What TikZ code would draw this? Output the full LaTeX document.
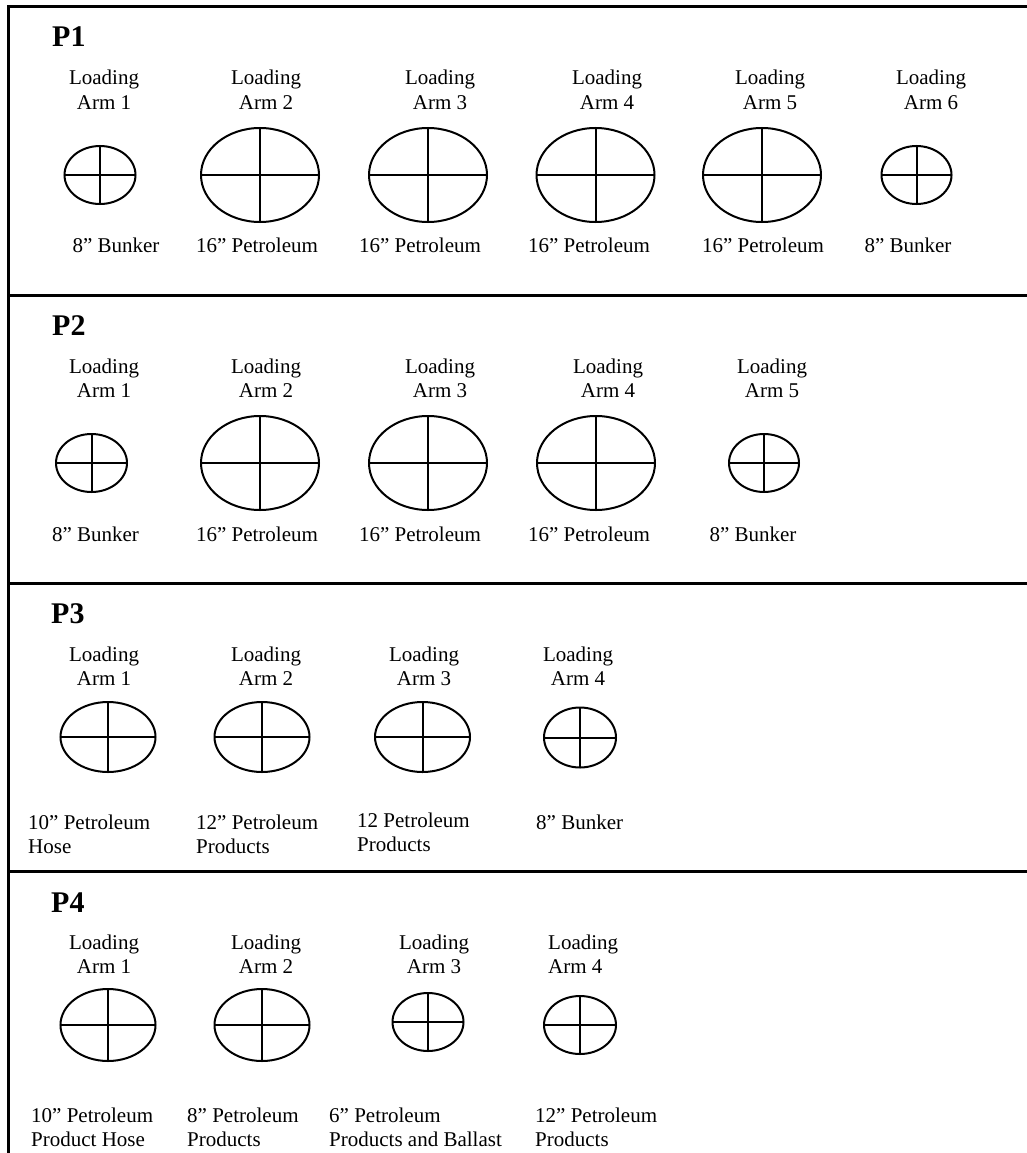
\documentclass[tikz,border=0pt]{standalone}
\usepackage{fontspec}
\setmainfont{Liberation Serif}
\usetikzlibrary{shapes.geometric}
\newcommand\armfont{\fontsize{21}{24.5}\selectfont}
\newcommand\panfont{\fontsize{30}{34}\selectfont\bfseries}
\newcommand\twoc[2]{\begin{tabular}[t]{@{}c@{}}#1\\#2\end{tabular}}
\newcommand\twol[2]{\begin{tabular}[t]{@{}l@{}}#1\\#2\end{tabular}}
\tikzset{
  frameline/.style={line width=3pt},
  armshape/.style={draw, ellipse, line width=2pt, inner sep=0pt, outer sep=0pt},
  crossline/.style={line width=2pt},
  toplbl/.style={font=\armfont, inner sep=0pt, anchor=base},
  botlbl/.style={font=\armfont, inner sep=0pt, anchor=base},
  botlbll/.style={font=\armfont, inner sep=0pt, anchor=base west},
  panlbl/.style={font=\panfont, inner sep=0pt, anchor=base west}
}
% name, x, y, width, height
\newcommand\armell[5]{%
  \node[armshape, minimum width=#4pt, minimum height=#5pt] (#1) at (#2,#3) {};
  \draw[crossline] (#1.north) -- (#1.south) (#1.west) -- (#1.east);}
\begin{document}
\begin{tikzpicture}[x=1pt,y=-1pt]
\useasboundingbox (0,0) rectangle (1027,1153);
% frame
\coordinate (tl) at (8,7);
\coordinate (tr) at (1027,7);
\coordinate (bl) at (8,1153);
\coordinate (d1l) at (8,295);  \coordinate (d1r) at (1027,295);
\coordinate (d2l) at (8,583);  \coordinate (d2r) at (1027,583);
\coordinate (d3l) at (8,871);  \coordinate (d3r) at (1027,871);
\draw[frameline] (tr) -- (tl) -- (bl);
\draw[frameline] (d1l) -- (d1r);
\draw[frameline] (d2l) -- (d2r);
\draw[frameline] (d3l) -- (d3r);

% ---------- P1 ----------
\node[panlbl] (p1) at (52,47) {P1};
\node[toplbl] (p1t1) at (104,85) {\twoc{Loading}{Arm 1}};
\node[toplbl] (p1t2) at (266,85) {\twoc{Loading}{Arm 2}};
\node[toplbl] (p1t3) at (440,85) {\twoc{Loading}{Arm 3}};
\node[toplbl] (p1t4) at (607,85) {\twoc{Loading}{Arm 4}};
\node[toplbl] (p1t5) at (770,85) {\twoc{Loading}{Arm 5}};
\node[toplbl] (p1t6) at (931,85) {\twoc{Loading}{Arm 6}};
\armell{p1e1}{100}{175}{71}{58}
\armell{p1e2}{260}{175}{118}{94}
\armell{p1e3}{428}{175}{118}{94}
\armell{p1e4}{595.5}{175}{118}{94}
\armell{p1e5}{762}{175}{118}{94}
\armell{p1e6}{916.5}{175}{70}{58}
\node[botlbl] (p1b1) at (116,252) {8” Bunker};
\node[botlbl] (p1b2) at (257,252) {16” Petroleum};
\node[botlbl] (p1b3) at (420,252) {16” Petroleum};
\node[botlbl] (p1b4) at (589,252) {16” Petroleum};
\node[botlbl] (p1b5) at (763,252) {16” Petroleum};
\node[botlbl] (p1b6) at (908,252) {8” Bunker};

% ---------- P2 ----------
\node[panlbl] (p2) at (52,335) {P2};
\node[toplbl] (p2t1) at (104,373) {\twoc{Loading}{Arm 1}};
\node[toplbl] (p2t2) at (266,373) {\twoc{Loading}{Arm 2}};
\node[toplbl] (p2t3) at (440,373) {\twoc{Loading}{Arm 3}};
\node[toplbl] (p2t4) at (608,373) {\twoc{Loading}{Arm 4}};
\node[toplbl] (p2t5) at (772,373) {\twoc{Loading}{Arm 5}};
\armell{p2e1}{91.5}{463}{71}{58}
\armell{p2e2}{260}{463}{118}{94}
\armell{p2e3}{428}{463}{118}{94}
\armell{p2e4}{596}{463}{118}{94}
\armell{p2e5}{764}{463}{70}{58}
\node[botlbl] (p2b1) at (95.5,541) {8” Bunker};
\node[botlbl] (p2b2) at (257,541) {16” Petroleum};
\node[botlbl] (p2b3) at (420,541) {16” Petroleum};
\node[botlbl] (p2b4) at (589,541) {16” Petroleum};
\node[botlbl] (p2b5) at (753,541) {8” Bunker};

% ---------- P3 ----------
\node[panlbl] (p3) at (51,623) {P3};
\node[toplbl] (p3t1) at (104,661) {\twoc{Loading}{Arm 1}};
\node[toplbl] (p3t2) at (266,661) {\twoc{Loading}{Arm 2}};
\node[toplbl] (p3t3) at (424,661) {\twoc{Loading}{Arm 3}};
\node[toplbl] (p3t4) at (578,661) {\twoc{Loading}{Arm 4}};
\armell{p3e1}{108}{737}{95}{70}
\armell{p3e2}{262}{737}{95}{70}
\armell{p3e3}{422.5}{737}{95}{70}
\armell{p3e4}{580}{737.5}{72}{60}
\node[botlbll] (p3b1) at (28,829) {\twol{10” Petroleum}{Hose}};
\node[botlbll] (p3b2) at (196,829) {\twol{12” Petroleum}{Products}};
\node[botlbll] (p3b3) at (357,827) {\twol{12 Petroleum}{Products}};
\node[botlbll] (p3b4) at (536,829) {8” Bunker};

% ---------- P4 ----------
\node[panlbl] (p4) at (51,912) {P4};
\node[toplbl] (p4t1) at (104,949) {\twoc{Loading}{Arm 1}};
\node[toplbl] (p4t2) at (266,949) {\twoc{Loading}{Arm 2}};
\node[toplbl] (p4t3) at (434,949) {\twoc{Loading}{Arm 3}};
\node[toplbl, anchor=base west] (p4t4) at (548,949) {\twol{Loading}{Arm 4}};
\armell{p4e1}{108}{1025}{95}{72}
\armell{p4e2}{262}{1025}{95}{72}
\armell{p4e3}{428}{1022}{71}{58}
\armell{p4e4}{580}{1025}{72}{58}
\node[botlbll] (p4b1) at (31,1122) {\twol{10” Petroleum}{Product Hose}};
\node[botlbll] (p4b2) at (187,1122) {\twol{8” Petroleum}{Products}};
\node[botlbll] (p4b3) at (329,1122) {\twol{6” Petroleum}{Products and Ballast}};
\node[botlbll] (p4b4) at (535,1122) {\twol{12” Petroleum}{Products}};
\end{tikzpicture}
\end{document}
